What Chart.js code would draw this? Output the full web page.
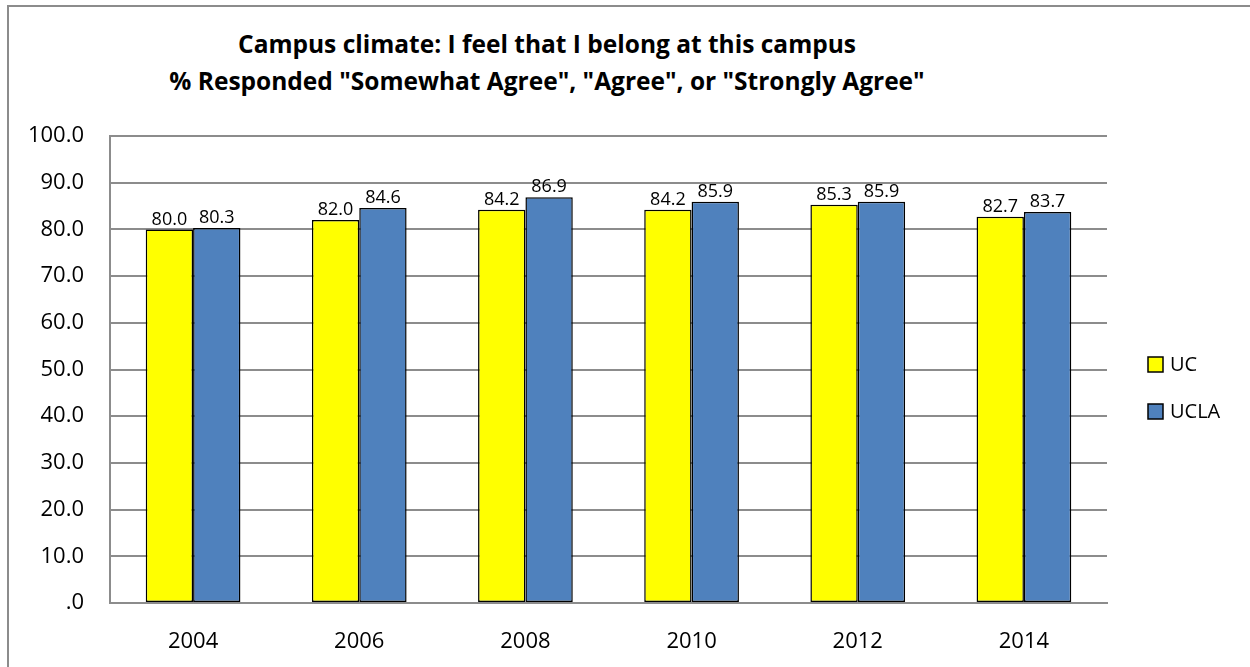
<!DOCTYPE html>
<html>
<head>
<meta charset="utf-8">
<script src="https://cdn.jsdelivr.net/npm/chart.js@4.4.1/dist/chart.umd.min.js"></script>
<style>
    html, body { margin: 0; padding: 0; background: #fff; }
    body { width: 1250px; height: 667px; position: relative; overflow: hidden; }
    #marco {
        position: absolute; left: 7px; top: 5px; width: 1300px; height: 700px;
        border-top: 2px solid #8c8c8c; border-left: 2px solid #8c8c8c;
    }
    #titulo {
        position: absolute; left: 0; top: 25px; width: 1094px;
        text-align: center; font-family: "Open Sans", sans-serif; font-weight: bold;
        font-size: 24.5px; line-height: 37px; color: #000;
    }
    #contenedor { position: absolute; left: 0; top: 110px; width: 1250px; height: 557px; }
</style>
</head>
<body>
<div id="marco"></div>
<div id="titulo">Campus climate: I feel that I belong at this campus<br>% Responded "Somewhat Agree", "Agree", or "Strongly Agree"</div>
<div id="contenedor"><canvas id="grafica"></canvas></div>
<script>
// Datos
const anios = ["2004", "2006", "2008", "2010", "2012", "2014"];
const valoresUC = [80.0, 82.0, 84.2, 84.2, 85.3, 82.7];
const valoresUCLA = [80.3, 84.6, 86.9, 85.9, 85.9, 83.7];
const nombresSeries = ["UC", "UCLA"];
const ticksY = [0, 10, 20, 30, 40, 50, 60, 70, 80, 90, 100];

const fuente = "'Open Sans', sans-serif";

// Etiquetas encima de cada barra
const pluginEtiquetas = {
    id: "etiquetas",
    afterDatasetsDraw(chart) {
        const ctx = chart.ctx;
        ctx.save();
        ctx.font = "18px " + fuente;
        ctx.fillStyle = "#000";
        ctx.textAlign = "center";
        ctx.textBaseline = "bottom";
        chart.data.datasets.forEach((ds, i) => {
            chart.getDatasetMeta(i).data.forEach((barra, j) => {
                ctx.fillText(ds.data[j].toFixed(1), barra.x, barra.y - 1);
            });
        });
        ctx.restore();
    }
};

// Leyenda propia a la derecha del área de la gráfica
const pluginLeyenda = {
    id: "leyendaPropia",
    afterDraw(chart) {
        const ctx = chart.ctx;
        const area = chart.chartArea;
        const medio = (area.top + area.bottom) / 2 + 19;
        const x = area.right + 41;
        ctx.save();
        ctx.font = "20px " + fuente;
        ctx.textBaseline = "middle";
        chart.data.datasets.forEach((ds, i) => {
            const y = medio + (i - 0.5) * 47;
            ctx.fillStyle = ds.backgroundColor;
            ctx.fillRect(x, y - 8, 15, 15);
            ctx.strokeStyle = "#000";
            ctx.lineWidth = 1.5;
            ctx.strokeRect(x, y - 8, 15, 15);
            ctx.fillStyle = "#000";
            ctx.fillText(ds.label, x + 22, y);
        });
        ctx.restore();
    }
};

const grafica = new Chart(document.getElementById("grafica"), {
    type: "bar",
    data: {
        labels: anios,
        datasets: [
            {
                label: nombresSeries[0],
                data: valoresUC,
                backgroundColor: "#ffff00",
                borderColor: "#000",
                borderWidth: 1.5,
                borderSkipped: false
            },
            {
                label: nombresSeries[1],
                data: valoresUCLA,
                backgroundColor: "#4f81bd",
                borderColor: "#000",
                borderWidth: 1.5,
                borderSkipped: false
            }
        ]
    },
    options: {
        responsive: true,
        maintainAspectRatio: false,
        animation: false,
        layout: { padding: { top: 26, right: 143, bottom: 0, left: 0 } },
        datasets: { bar: { categoryPercentage: 0.57, barPercentage: 1.0 } },
        plugins: {
            legend: { display: false },
            title: { display: false },
            tooltip: { enabled: false }
        },
        scales: {
            x: {
                afterFit: (eje) => { eje.height = 64; },
                grid: { display: false },
                border: { display: true, color: "#8c8c8c", width: 2 },
                ticks: { color: "#000", font: { family: fuente, size: 22 }, padding: 18 }
            },
            y: {
                min: 0,
                max: 100,
                afterBuildTicks: (eje) => { eje.ticks = ticksY.map(v => ({ value: v })); },
                afterFit: (eje) => {
                    eje.width = 110;
                    eje.paddingTop = 0;
                    eje.paddingBottom = 0;
                },
                grid: { color: "#8c8c8c", lineWidth: 2, drawTicks: false },
                border: { display: true, color: "#8c8c8c", width: 2 },
                ticks: {
                    color: "#000",
                    padding: 26,
                    font: { family: fuente, size: 22 },
                    callback: (v) => v === 0 ? ".0" : v.toFixed(1)
                }
            }
        }
    },
    plugins: [pluginEtiquetas, pluginLeyenda]
});
</script>
</body>
</html>
